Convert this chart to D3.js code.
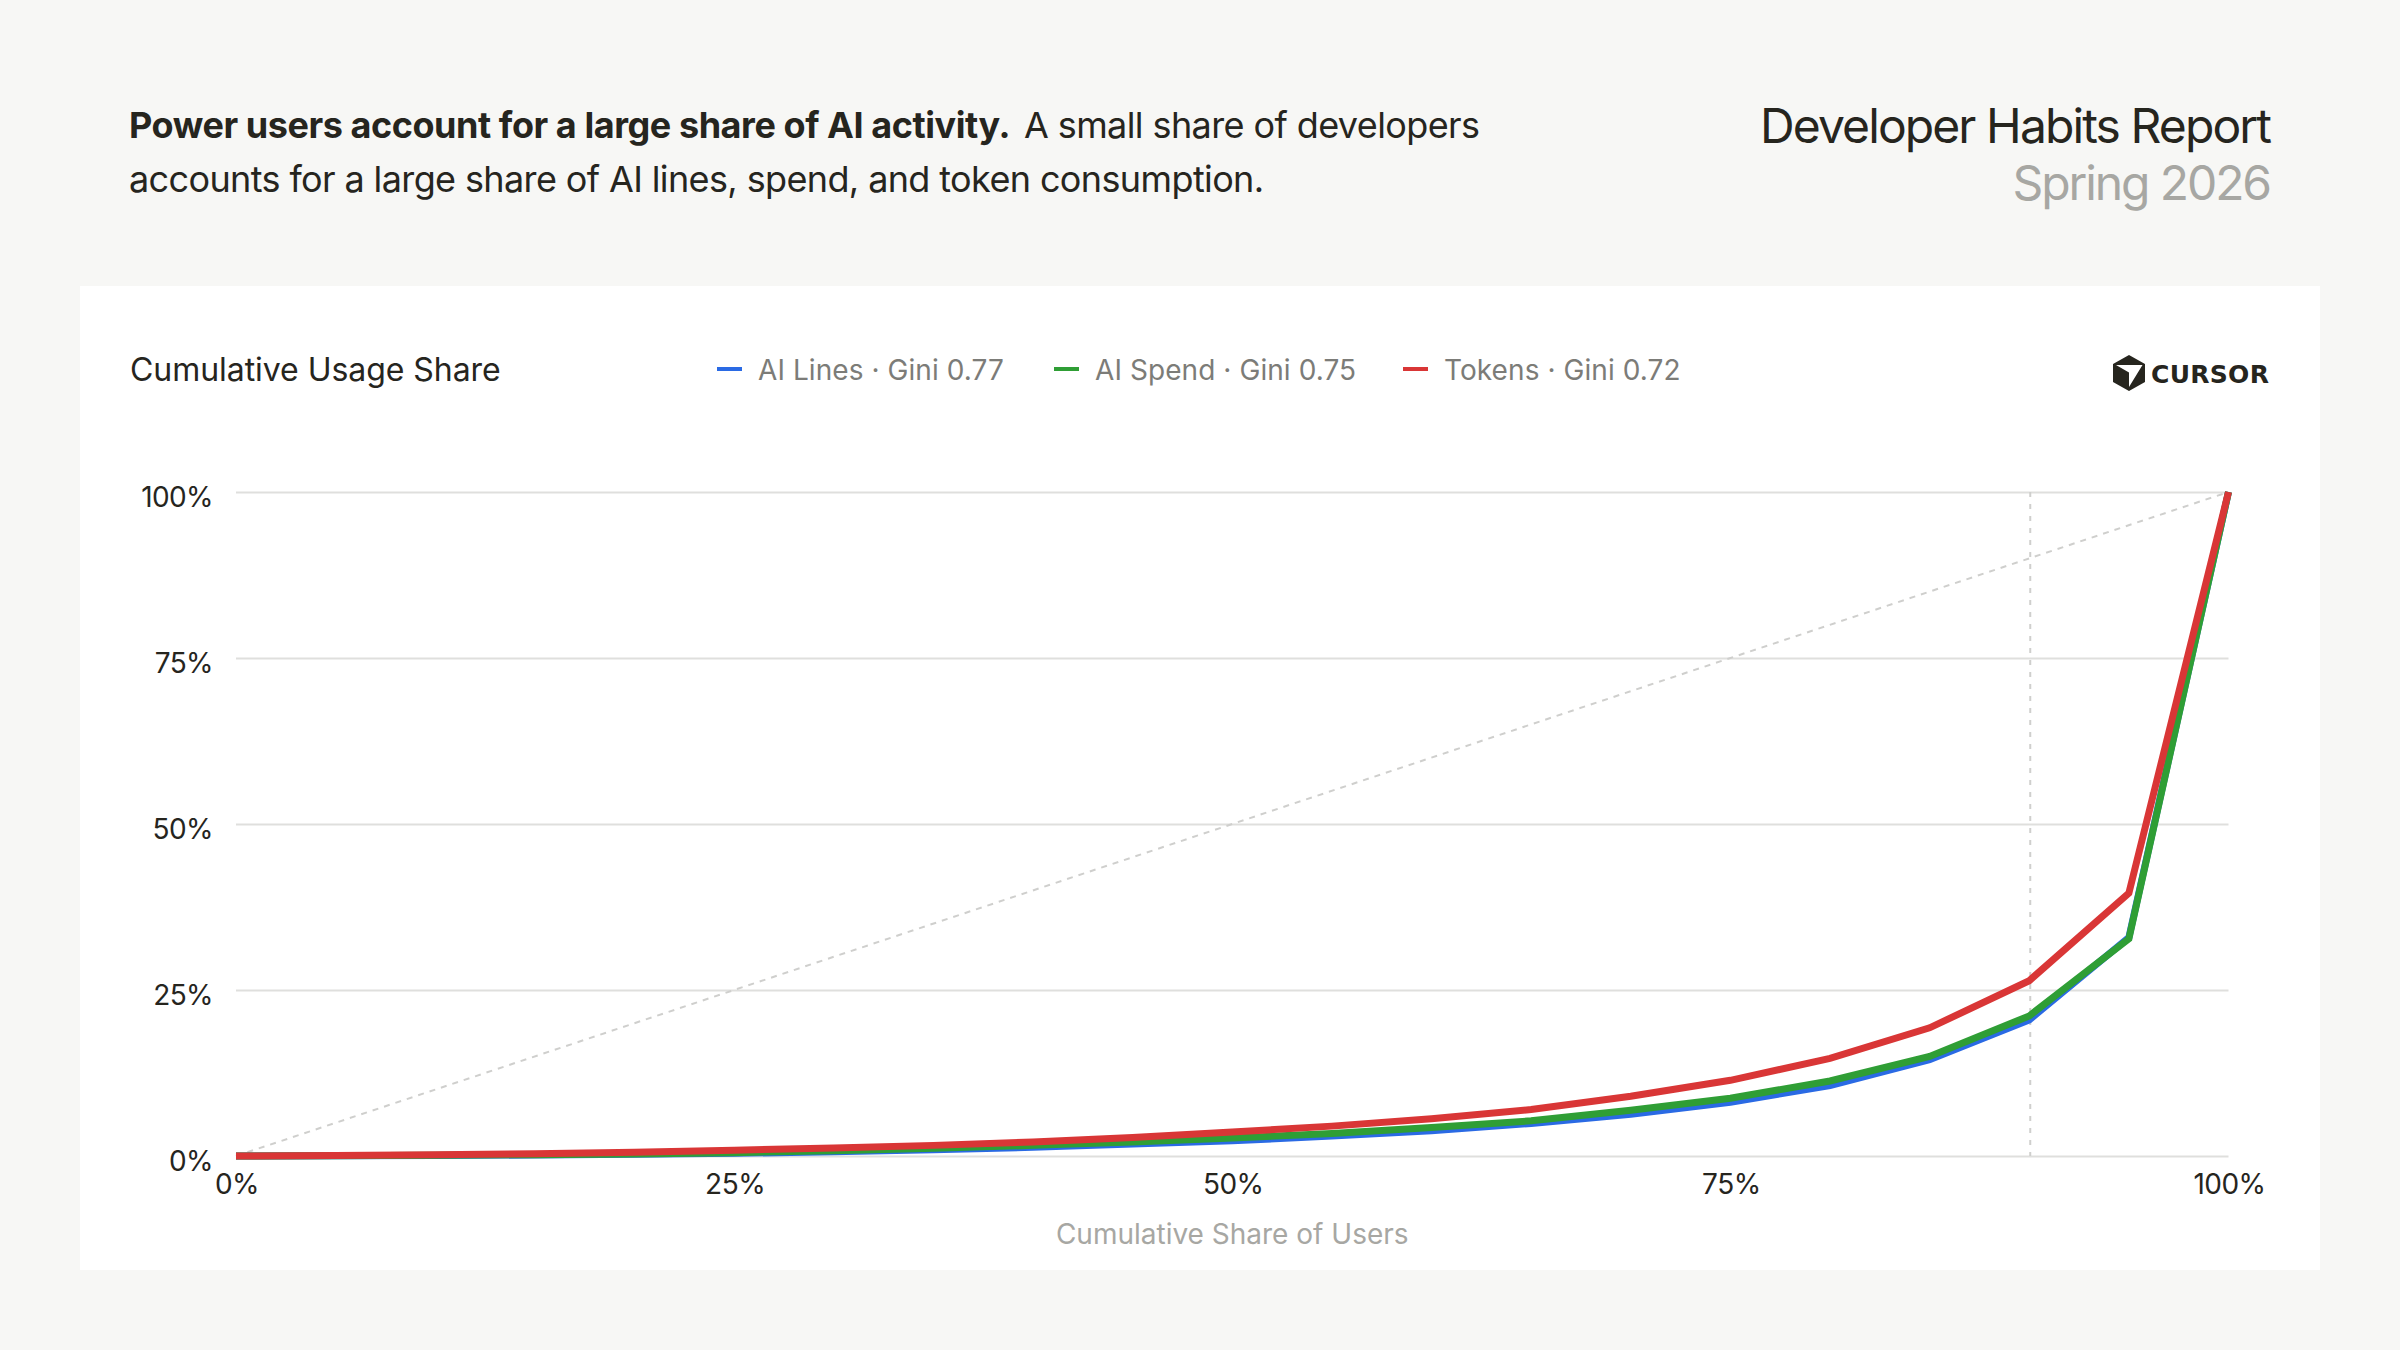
<!DOCTYPE html>
<html>
<head>
<meta charset="utf-8">
<script src="https://cdn.jsdelivr.net/npm/d3@7/dist/d3.min.js"></script>
<style>
html,body{margin:0;padding:0;background:#f7f7f5;}
svg{display:block;}
text{font-family:Inter,"Noto Sans",sans-serif;}
</style>
</head>
<body>
<svg id="chart" width="2400" height="1350"></svg>
<script>
// Cumulative share of users (%), sampled every 5 points
const userShare = [0,5,10,15,20,25,30,35,40,45,50,55,60,65,70,75,80,85,90,95,100];
// Cumulative usage share (%) for each measure
const aiLines = [0,0.03,0.08,0.15,0.25,0.4,0.65,0.95,1.3,1.8,2.3,3.0,3.8,4.9,6.3,8.1,10.6,14.5,20.5,32.9,100];
const aiSpend = [0,0.05,0.1,0.2,0.3,0.5,0.8,1.15,1.6,2.1,2.7,3.4,4.3,5.3,6.9,8.7,11.3,15,21.1,32.7,100];
const tokens = [0,0.08,0.18,0.35,0.55,0.87,1.2,1.6,2.1,2.8,3.6,4.5,5.6,7.0,9,11.4,14.7,19.3,26.4,39.6,100];
const equality = [0,100];
const xTicks = [0,25,50,75,100];
const yTicks = [0,25,50,75,100];
const seriesNames = ["AI Lines · Gini 0.77","AI Spend · Gini 0.75","Tokens · Gini 0.72"];
const seriesColors = ["#2a6ae4","#2f9e35","#d93636"];
const seriesValues = [aiLines,aiSpend,tokens];
const markerShare = 90;

const svg = d3.select("#chart");
const ink = "#26251e", muted = "#a7a7a3", legendInk = "#7c7c78";

// Header
const lede = svg.append("text").attr("x",129).attr("y",137.5).attr("font-size",36).attr("fill",ink);
lede.append("tspan").attr("font-weight",700).attr("letter-spacing",-0.44).text("Power users account for a large share of AI activity.");
lede.append("tspan").attr("dx",14).attr("letter-spacing",-0.6).text("A small share of developers");
svg.append("text").attr("x",129).attr("y",191.5).attr("font-size",36).attr("letter-spacing",-0.62).attr("fill",ink)
  .text("accounts for a large share of AI lines, spend, and token consumption.");
svg.append("text").attr("x",2270).attr("y",143).attr("text-anchor","end").attr("font-size",48).attr("letter-spacing",-1.9).attr("fill",ink).text("Developer Habits Report");
svg.append("text").attr("x",2270).attr("y",199.5).attr("text-anchor","end").attr("font-size",48).attr("letter-spacing",-2.1).attr("fill",muted).text("Spring 2026");

// Card
svg.append("rect").attr("x",80).attr("y",286).attr("width",2240).attr("height",984).attr("fill","#ffffff");
svg.append("text").attr("x",130).attr("y",381).attr("font-size",32).attr("letter-spacing",-0.05).attr("fill",ink).text("Cumulative Usage Share");

// Legend
const legendX = [717,1054,1403];
seriesNames.forEach((name,i)=>{
  svg.append("line").attr("x1",legendX[i]).attr("x2",legendX[i]+25).attr("y1",369).attr("y2",369)
    .attr("stroke",seriesColors[i]).attr("stroke-width",4);
  svg.append("text").attr("x",legendX[i]+41).attr("y",380).attr("font-size",28).attr("letter-spacing",0.07).attr("fill",legendInk).text(name);
});

// Wordmark
const mark = svg.append("g").attr("transform","translate(2113,355)");
mark.append("path").attr("fill",ink)
  .attr("d","M16 0 L32 9 L32 27 L16 36 L0 27 L0 9 Z M3 10 L16 17.5 L16 32 L29.5 10 Z")
  .attr("fill-rule","evenodd");
svg.append("text").attr("x",2151).attr("y",383).attr("font-size",25).attr("font-weight",700)
  .attr("letter-spacing",0.3).attr("fill",ink).style("font-family","'DejaVu Sans'").text("CURSOR");

// Scales
const x = d3.scaleLinear().domain([0,100]).range([236,2228.5]);
const y = d3.scaleLinear().domain([0,100]).range([1156,492]);
const pct = d=>d+"%";

// Gridlines and axes
const yAxis = svg.append("g").attr("transform","translate(236,0)")
  .call(d3.axisLeft(y).tickValues(yTicks).tickFormat(pct).tickSize(-(x.range()[1]-x.range()[0])).tickPadding(23));
yAxis.select(".domain").remove();
yAxis.selectAll(".tick line").attr("stroke","#dfdfdd").attr("stroke-width",2);
yAxis.selectAll(".tick text").attr("font-size",28).attr("fill",ink).attr("dy","0.52em").attr("letter-spacing",-0.6).attr("font-family","Inter");

const xAxis = svg.append("g").attr("transform","translate(0,1156)")
  .call(d3.axisBottom(x).tickValues(xTicks).tickFormat(pct).tickSize(0).tickPadding(18));
xAxis.select(".domain").remove();
xAxis.selectAll(".tick text").attr("font-size",28).attr("fill",ink).attr("letter-spacing",-0.5).attr("font-family","Inter").attr("dx",0.5);

svg.append("text").attr("x",x(50)).attr("y",1244).attr("text-anchor","middle").attr("font-size",28).attr("fill",muted).text("Cumulative Share of Users");

// Line of equality and the 90th-percentile marker
svg.append("line").attr("x1",x(equality[0])).attr("y1",y(equality[0])).attr("x2",x(equality[1])).attr("y2",y(equality[1]))
  .attr("stroke","#cfcfcd").attr("stroke-width",2).attr("stroke-dasharray","6 6");
svg.append("line").attr("x1",x(markerShare)+1).attr("x2",x(markerShare)+1).attr("y1",y(100)).attr("y2",y(0))
  .attr("stroke","#cfcfcd").attr("stroke-width",2).attr("stroke-dasharray","5 7");

// Lorenz curves
const line = d3.line().x((d,i)=>x(userShare[i])).y(d=>y(d));
seriesValues.forEach((vals,i)=>{
  svg.append("path").datum(vals).attr("d",line).attr("fill","none")
    .attr("stroke",seriesColors[i]).attr("stroke-width",7).attr("stroke-linejoin","miter");
});
</script>
</body>
</html>
